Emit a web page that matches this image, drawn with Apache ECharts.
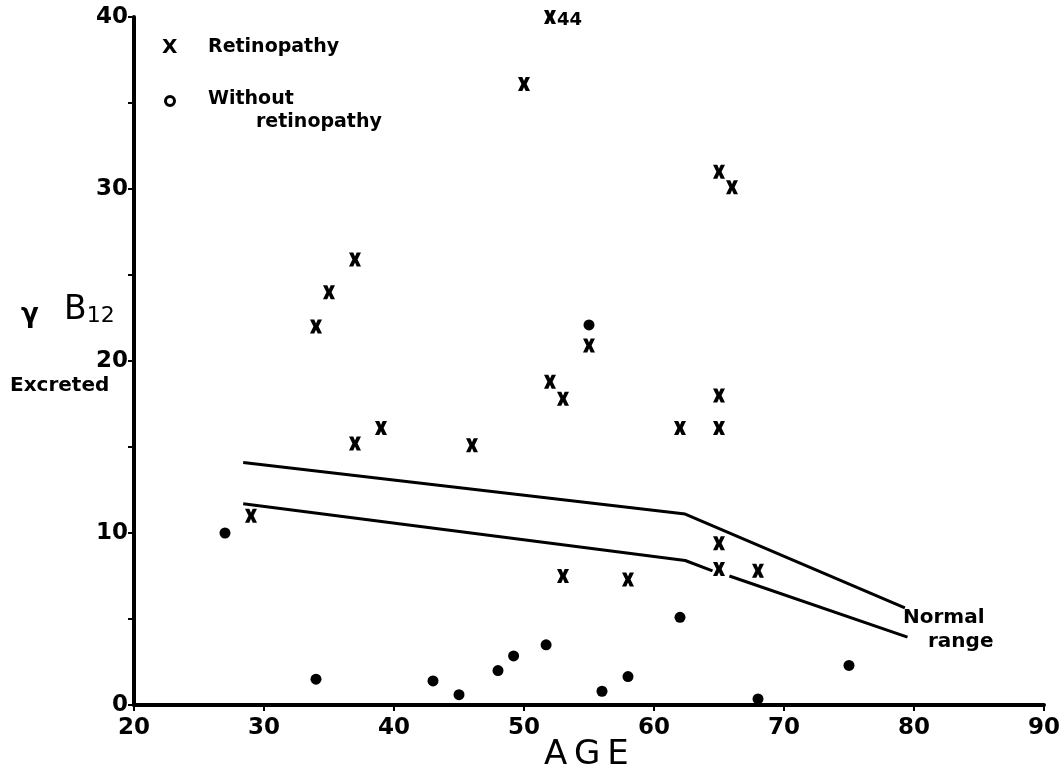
<!DOCTYPE html>
<html lang="en">
  <head>
    <meta charset="UTF-8" />
    <title>B12 excreted vs age</title>
    <script src="https://cdn.jsdelivr.net/npm/echarts@6/dist/echarts.min.js"></script>
    <style>
      html, body { margin: 0; padding: 0; background: #fff; }
    </style>
  </head>
  <body>
    <div id="chart" style="width: 1064px; height: 775px"></div>

    <script>
      // patients with retinopathy (x)
      var retinoAge = [52, 50, 65, 66, 37, 35, 34, 37, 39, 55, 52, 53, 46, 65, 65, 62, 29, 53, 58, 65, 65, 68];
      var retinoVal = [40, 36.1, 31, 30.1, 25.9, 24, 22, 15.2, 16.1, 20.9, 18.8, 17.8, 15.1, 18, 16.1, 16.1, 11, 7.5, 7.3, 9.4, 7.9, 7.8];
      // the top point is off scale, written as 44
      var offScaleLabel = "44";

      // patients without retinopathy (o)
      var withoutAge = [55, 27, 34, 43, 45, 48, 49.2, 51.7, 56, 58, 62, 68, 75];
      var withoutVal = [22.1, 10, 1.5, 1.4, 0.6, 2.0, 2.85, 3.5, 0.8, 1.65, 5.1, 0.35, 2.3];

      // normal range boundaries (null = gap in the line)
      var upperAge = [28.4, 62.4, 79.3];
      var upperVal = [14.1, 11.1, 5.65];
      var lowerAge = [28.4, 62.4, 64.5, null, 65.8, 79.5];
      var lowerVal = [11.7, 8.4, 7.8, null, 7.5, 3.95];

      var xTicks = [20, 30, 40, 50, 60, 70, 80, 90];
      var yTicks = [0, 10, 20, 30, 40];

      function pairs(xs, ys) {
        return xs.map(function (x, i) {
          return x === null ? ["-", "-"] : [x, ys[i]];
        });
      }

      var xPath = "path://M0,0 L5,0 L7,4.5 L9,0 L14,0 L10,8 L14,16 L9,16 L7,11.5 L5,16 L0,16 L4,8 Z";
      var font = "DejaVu Sans";

      var retinoData = retinoAge.map(function (a, i) {
        var item = { value: [a, retinoVal[i]] };
        if (retinoVal[i] >= 40) {
          item.label = {
            show: true,
            position: "right",
            distance: 1,
            offset: [0, 3],
            formatter: offScaleLabel,
            color: "#000",
            fontFamily: font,
            fontWeight: "bold",
            fontSize: 18,
          };
        }
        return item;
      });

      var myChart = echarts.init(document.getElementById("chart"));

      var lineStyle = { color: "#000", width: 3 };

      var option = {
        backgroundColor: "#fff",
        animation: false,
        grid: { left: 134, right: 20, top: 17, bottom: 70 },
        xAxis: {
          type: "value",
          min: 20,
          max: 90,
          interval: 10,
          axisLine: { onZero: false, lineStyle: { color: "#000", width: 4 } },
          axisTick: { show: true, length: 6, lineStyle: { color: "#000", width: 2 } },
          splitLine: { show: false },
          axisLabel: {
            color: "#000",
            fontFamily: font,
            fontWeight: "bold",
            fontSize: 23,
            margin: 12,
            formatter: function (v) {
              return xTicks.indexOf(v) >= 0 ? String(v) : "";
            },
          },
        },
        yAxis: {
          type: "value",
          min: 0,
          max: 40,
          interval: 5,
          axisLine: { show: true, lineStyle: { color: "#000", width: 4 } },
          axisTick: { show: true, length: 6, lineStyle: { color: "#000", width: 2 } },
          splitLine: { show: false },
          axisLabel: {
            color: "#000",
            fontFamily: font,
            fontWeight: "bold",
            fontSize: 23,
            margin: 6,
            formatter: function (v) {
              return yTicks.indexOf(v) >= 0 ? String(v) : "";
            },
          },
        },
        graphic: [
          // legend
          { type: "text", left: 162, top: 38, style: { text: "X", font: "bold 20px " + font, fill: "#000" } },
          { type: "text", left: 208, top: 38, style: { text: "Retinopathy", font: "bold 19px " + font, fill: "#000" } },
          { type: "circle", shape: { cx: 170, cy: 101, r: 4.5 }, style: { fill: "#fff", stroke: "#000", lineWidth: 3 } },
          { type: "text", left: 208, top: 90, style: { text: "Without", font: "bold 19px " + font, fill: "#000" } },
          { type: "text", left: 256, top: 113, style: { text: "retinopathy", font: "bold 19px " + font, fill: "#000" } },
          // y axis name
          { type: "text", left: 21, top: 302, style: { text: "\u03b3", font: "bold 26px " + font, fill: "#000" } },
          {
            type: "text",
            left: 64,
            top: 294,
            style: {
              text: "{b|B}{s|12}",
              rich: {
                b: { font: "33px " + font, fill: "#000" },
                s: { font: "22px " + font, fill: "#000", verticalAlign: "bottom", padding: [12, 0, 0, 0] },
              },
            },
          },
          { type: "text", left: 10, top: 376, style: { text: "Excreted", font: "bold 20px " + font, fill: "#000" } },
          // x axis name
          { type: "text", left: 544, top: 738, style: { text: "A\u2009G\u2009E", font: "34px " + font, fill: "#000" } },
          // normal range note
          { type: "text", left: 903, top: 608, style: { text: "Normal", font: "bold 20px " + font, fill: "#000" } },
          { type: "text", left: 928, top: 632, style: { text: "range", font: "bold 20px " + font, fill: "#000" } },
        ],
        series: [
          {
            name: "Normal upper",
            type: "line",
            data: pairs(upperAge, upperVal),
            symbol: "none",
            lineStyle: lineStyle,
            z: 1,
          },
          {
            name: "Normal lower",
            type: "line",
            data: pairs(lowerAge, lowerVal),
            symbol: "none",
            connectNulls: false,
            lineStyle: lineStyle,
            z: 1,
          },
          {
            name: "Retinopathy",
            type: "scatter",
            data: retinoData,
            symbol: xPath,
            symbolSize: [12, 14],
            itemStyle: { color: "#000", opacity: 1 },
            z: 3,
          },
          {
            name: "Without retinopathy",
            type: "scatter",
            data: pairs(withoutAge, withoutVal),
            symbol: "circle",
            symbolSize: 11,
            itemStyle: { color: "#000", opacity: 1 },
            z: 3,
          },
        ],
      };

      myChart.setOption(option);
    </script>
  </body>
</html>
